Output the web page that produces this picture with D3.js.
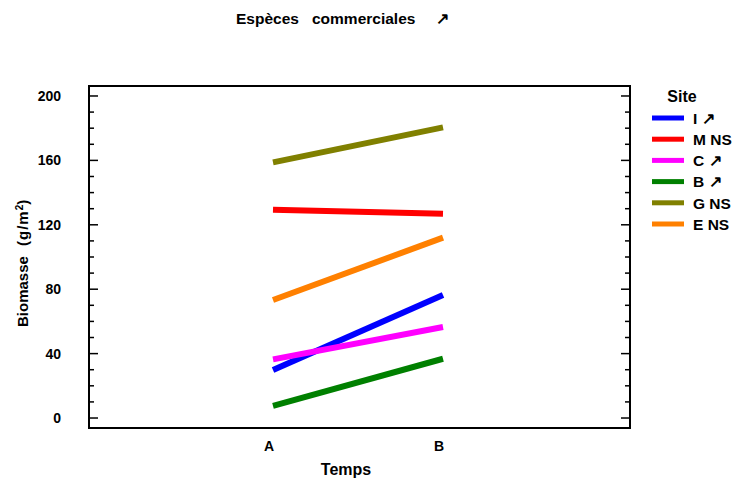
<!DOCTYPE html>
<html>
<head>
<meta charset="utf-8">
<script src="https://cdn.jsdelivr.net/npm/d3@7"></script>
<style>
  body { margin: 0; background: #fff; }
  text { font-family: "Liberation Sans", Arial, sans-serif; font-weight: bold; fill: #000; }
</style>
</head>
<body>
<div id="chart"></div>
<script>
// data
const times = ["A", "B"];
const sites = ["I ↗", "M NS", "C ↗", "B ↗", "G NS", "E NS"];
const colors = ["#0000ff", "#ff0000", "#ff00ff", "#008000", "#808000", "#ff8000"];
const valuesA = [29.8, 129.4, 36.4, 7.5, 158.8, 73.3];
const valuesB = [76.4, 126.9, 56.5, 36.8, 180.5, 112];
const yTicks = [0, 40, 80, 120, 160, 200];

const W = 743, H = 487;
const margin = { top: 86, right: 113, bottom: 59, left: 89 },
    width = W - margin.left - margin.right,
    height = H - margin.top - margin.bottom;

const svg = d3.select("#chart")
    .append("svg")
    .attr("width", W)
    .attr("height", H);

const g = svg.append("g")
    .attr("transform", `translate(${margin.left}, ${margin.top})`);

const x = d3.scalePoint()
    .domain(times)
    .range([184, 354]);

const y = d3.scaleLinear()
    .domain([-6.2, 206.2])
    .range([height, 0]);

// minor + major ticks, pointing inward on both sides
const minor = d3.range(0, 201, 10);
g.selectAll(".tl")
    .data(minor)
    .join("line")
    .attr("x1", 0)
    .attr("x2", d => d % 40 === 0 ? 9 : 5)
    .attr("y1", d => y(d))
    .attr("y2", d => y(d))
    .attr("stroke", "#000")
    .attr("stroke-width", 1.5);
g.selectAll(".tr")
    .data(minor)
    .join("line")
    .attr("x1", width)
    .attr("x2", d => width - (d % 40 === 0 ? 9 : 5))
    .attr("y1", d => y(d))
    .attr("y2", d => y(d))
    .attr("stroke", "#000")
    .attr("stroke-width", 1.5);

// y tick labels
g.selectAll(".ylab")
    .data(yTicks)
    .join("text")
    .attr("x", -28)
    .attr("y", d => y(d))
    .attr("dy", "0.36em")
    .attr("text-anchor", "end")
    .style("font-size", "14px")
    .text(d => d);

// x tick labels
g.selectAll(".xlab")
    .data(times)
    .join("text")
    .attr("x", d => x(d) - 4)
    .attr("y", height + 23)
    .attr("text-anchor", "middle")
    .style("font-size", "14px")
    .text(d => d);

// series lines
const series = sites.map((s, i) => ({ name: s, color: colors[i], vals: [valuesA[i], valuesB[i]] }));
g.selectAll(".serie")
    .data(series)
    .join("line")
    .attr("x1", x("A"))
    .attr("x2", x("B"))
    .attr("y1", d => y(d.vals[0]))
    .attr("y2", d => y(d.vals[1]))
    .attr("stroke", d => d.color)
    .attr("stroke-width", 6);

// frame
g.append("rect")
    .attr("width", width)
    .attr("height", height)
    .attr("fill", "none")
    .attr("stroke", "#000")
    .attr("stroke-width", 2);

// axis titles
svg.append("text")
    .attr("x", 346)
    .attr("y", 475)
    .attr("text-anchor", "middle")
    .style("font-size", "16px")
    .text("Temps");

const ylab = svg.append("text")
    .attr("transform", "translate(28, 0) rotate(-90)")
    .style("font-size", "15px");
ylab.append("tspan").attr("x", -327).text("Biomasse");
ylab.append("tspan").attr("x", -246).style("letter-spacing", "1px").text("(g/m");
ylab.append("tspan").attr("dy", -5).style("font-size", "10px").text("2");
ylab.append("tspan").attr("dy", 5).text(")");

const title = svg.append("text")
    .attr("y", 24)
    .style("font-size", "15.5px");
title.append("tspan").attr("x", 236).text("Espèces");
title.append("tspan").attr("x", 312).text("commerciales");
title.append("tspan").attr("x", 436).text("↗");

// legend
const legend = svg.append("g").attr("transform", "translate(652, 0)");
legend.append("text")
    .attr("x", 30)
    .attr("y", 102)
    .attr("text-anchor", "middle")
    .style("font-size", "16px")
    .text("Site");
const items = legend.selectAll(".item")
    .data(series)
    .join("g")
    .attr("transform", (d, i) => `translate(0, ${118 + i * 21.2})`);
items.append("line")
    .attr("x1", 0)
    .attr("x2", 32)
    .attr("stroke", d => d.color)
    .attr("stroke-width", 5);
items.append("text")
    .attr("x", 41)
    .attr("dy", "0.38em")
    .style("font-size", "15.5px")
    .text(d => d.name);
</script>
</body>
</html>
